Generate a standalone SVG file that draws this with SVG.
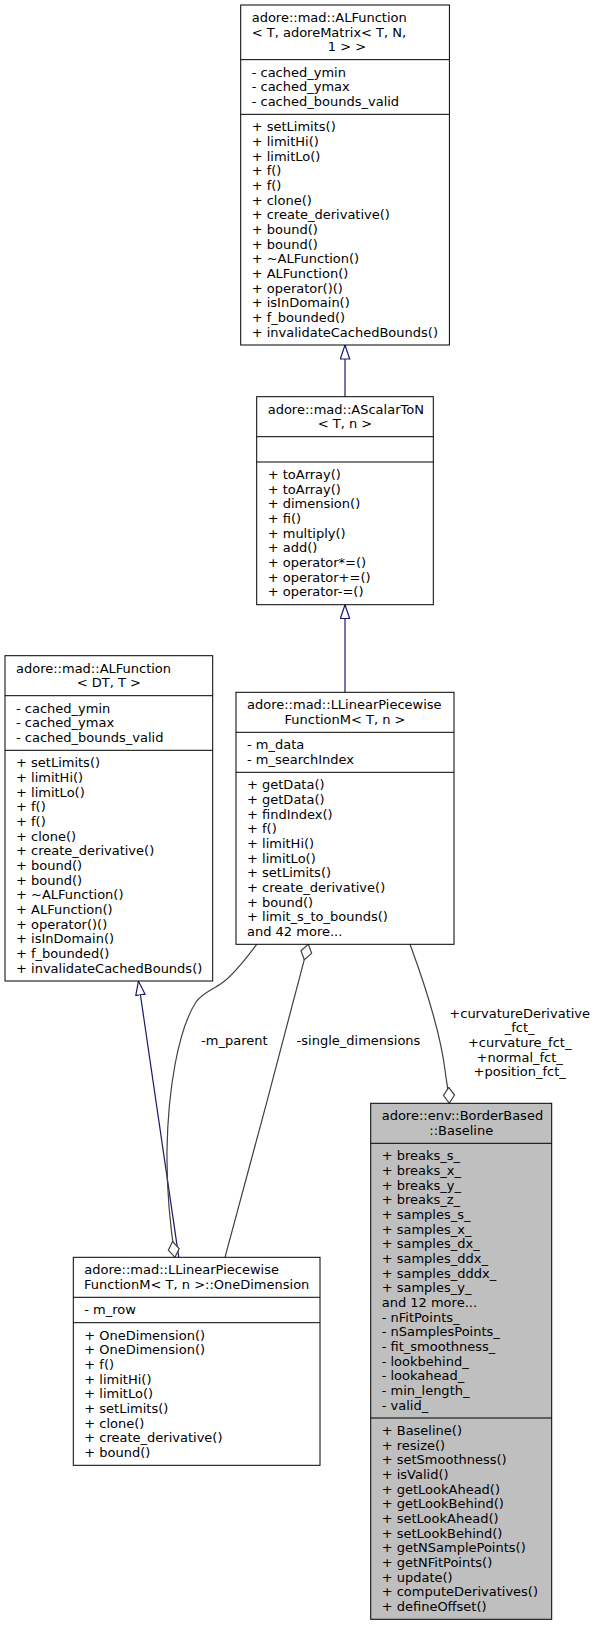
<svg xmlns="http://www.w3.org/2000/svg" width="596" height="1625" viewBox="0 0 596 1625">
<style>
.box{fill:#ffffff;stroke:#000000;stroke-width:1}
.boxh{fill:#bfbfbf;stroke:#000000;stroke-width:1}
.sep{stroke:#000000;stroke-width:1}
text{font-family:"DejaVu Sans","Liberation Sans",sans-serif;font-size:13px;fill:#000000}
.c{text-anchor:middle}
.inh{fill:none;stroke:#191970;stroke-width:1.2}
.agg{fill:none;stroke:#404040;stroke-width:1.2}
</style>
<defs>
<marker id="tri" markerUnits="userSpaceOnUse" markerWidth="16" markerHeight="12" viewBox="0 0 16 12" refX="14.5" refY="5.5" orient="auto">
<path d="M0.5,0.8 L14.5,5.5 L0.5,10.2 z" fill="#ffffff" stroke="#191970" stroke-width="1.2"/>
</marker>
<marker id="dia" markerUnits="userSpaceOnUse" markerWidth="18" markerHeight="14" viewBox="0 0 18 14" refX="16.5" refY="6.5" orient="auto">
<path d="M0.5,6.5 L8.5,1 L16.5,6.5 L8.5,12 z" fill="#ffffff" stroke="#404040" stroke-width="1.2"/>
</marker>
</defs>

<g id="connectors">
<path class="inh" d="M345,396.7 L345,345" marker-end="url(#tri)"/>
<path class="inh" d="M345,692.3 L345,604.7" marker-end="url(#tri)"/>
<path class="inh" d="M178.8,1257.3 L138.4,981" marker-end="url(#tri)"/>
<path class="agg" d="M256.7,944.3 C245,960 232,976 222,983 C212,990 202,993 196,1002 C178,1030 168,1090 167,1150 C166.5,1190 170,1225 175,1257.3" marker-end="url(#dia)"/>
<path class="agg" d="M225,1257.3 C250,1165 285,1035 308.3,944.3" marker-end="url(#dia)"/>
<path class="agg" d="M410,944.3 C425,985 440,1030 445,1070 C447,1085 449,1095 449.3,1103.3" marker-end="url(#dia)"/>
<text class="c" x="234.3" y="1045.4">-m_parent</text>
<text class="c" x="358.5" y="1045.4">-single_dimensions</text>
<text class="c" x="519.7" y="1017.7">+curvatureDerivative<tspan x="519.7" dy="14.67">_fct_</tspan><tspan x="519.7" dy="14.67">+curvature_fct_</tspan><tspan x="519.7" dy="14.67">+normal_fct_</tspan><tspan x="519.7" dy="14.67">+position_fct_</tspan></text>
</g>

<g id="node_ALFunction_adoreMatrix">
<rect class="box" x="240.7" y="5" width="208.7" height="340"/>
<line class="sep" x1="240.7" y1="59.67" x2="449.4" y2="59.67"/>
<line class="sep" x1="240.7" y1="114.33" x2="449.4" y2="114.33"/>
<text x="251.7" y="22">adore::mad::ALFunction<tspan x="251.7" dy="14.67">&lt; T, adoreMatrix&lt; T, N,</tspan></text>
<text class="c" x="347" y="51.33">1 &gt; &gt;</text>
<text x="251.7" y="76.67">- cached_ymin<tspan x="251.7" dy="14.67">- cached_ymax</tspan><tspan x="251.7" dy="14.67">- cached_bounds_valid</tspan></text>
<text x="251.7" y="131.33">+ setLimits()<tspan x="251.7" dy="14.67">+ limitHi()</tspan><tspan x="251.7" dy="14.67">+ limitLo()</tspan><tspan x="251.7" dy="14.67">+ f()</tspan><tspan x="251.7" dy="14.67">+ f()</tspan><tspan x="251.7" dy="14.67">+ clone()</tspan><tspan x="251.7" dy="14.67">+ create_derivative()</tspan><tspan x="251.7" dy="14.67">+ bound()</tspan><tspan x="251.7" dy="14.67">+ bound()</tspan><tspan x="251.7" dy="14.67">+ ~ALFunction()</tspan><tspan x="251.7" dy="14.67">+ ALFunction()</tspan><tspan x="251.7" dy="14.67">+ operator()()</tspan><tspan x="251.7" dy="14.67">+ isInDomain()</tspan><tspan x="251.7" dy="14.67">+ f_bounded()</tspan><tspan x="251.7" dy="14.67">+ invalidateCachedBounds()</tspan></text>
</g>

<g id="node_AScalarToN">
<rect class="box" x="256.7" y="396.7" width="176.6" height="208"/>
<line class="sep" x1="256.7" y1="436.7" x2="433.3" y2="436.7"/>
<line class="sep" x1="256.7" y1="462" x2="433.3" y2="462"/>
<text x="267.7" y="413.7">adore::mad::AScalarToN</text>
<text class="c" x="345" y="428.4">&lt; T, n &gt;</text>
<text x="267.7" y="479">+ toArray()<tspan x="267.7" dy="14.67">+ toArray()</tspan><tspan x="267.7" dy="14.67">+ dimension()</tspan><tspan x="267.7" dy="14.67">+ fi()</tspan><tspan x="267.7" dy="14.67">+ multiply()</tspan><tspan x="267.7" dy="14.67">+ add()</tspan><tspan x="267.7" dy="14.67">+ operator*=()</tspan><tspan x="267.7" dy="14.67">+ operator+=()</tspan><tspan x="267.7" dy="14.67">+ operator-=()</tspan></text>
</g>

<g id="node_ALFunction_DT_T">
<rect class="box" x="5" y="655.7" width="207.7" height="325.3"/>
<line class="sep" x1="5" y1="695.7" x2="212.7" y2="695.7"/>
<line class="sep" x1="5" y1="750.3" x2="212.7" y2="750.3"/>
<text x="16" y="672.7">adore::mad::ALFunction</text>
<text class="c" x="108.9" y="687.4">&lt; DT, T &gt;</text>
<text x="16" y="712.7">- cached_ymin<tspan x="16" dy="14.67">- cached_ymax</tspan><tspan x="16" dy="14.67">- cached_bounds_valid</tspan></text>
<text x="16" y="767.3">+ setLimits()<tspan x="16" dy="14.67">+ limitHi()</tspan><tspan x="16" dy="14.67">+ limitLo()</tspan><tspan x="16" dy="14.67">+ f()</tspan><tspan x="16" dy="14.67">+ f()</tspan><tspan x="16" dy="14.67">+ clone()</tspan><tspan x="16" dy="14.67">+ create_derivative()</tspan><tspan x="16" dy="14.67">+ bound()</tspan><tspan x="16" dy="14.67">+ bound()</tspan><tspan x="16" dy="14.67">+ ~ALFunction()</tspan><tspan x="16" dy="14.67">+ ALFunction()</tspan><tspan x="16" dy="14.67">+ operator()()</tspan><tspan x="16" dy="14.67">+ isInDomain()</tspan><tspan x="16" dy="14.67">+ f_bounded()</tspan><tspan x="16" dy="14.67">+ invalidateCachedBounds()</tspan></text>
</g>

<g id="node_LLinearPiecewiseFunctionM">
<rect class="box" x="236" y="692.3" width="218" height="252"/>
<line class="sep" x1="236" y1="732.3" x2="454" y2="732.3"/>
<line class="sep" x1="236" y1="772.3" x2="454" y2="772.3"/>
<text x="247" y="709.3">adore::mad::LLinearPiecewise</text>
<text class="c" x="345" y="724">FunctionM&lt; T, n &gt;</text>
<text x="247" y="749.3">- m_data<tspan x="247" dy="14.67">- m_searchIndex</tspan></text>
<text x="247" y="789.3">+ getData()<tspan x="247" dy="14.67">+ getData()</tspan><tspan x="247" dy="14.67">+ findIndex()</tspan><tspan x="247" dy="14.67">+ f()</tspan><tspan x="247" dy="14.67">+ limitHi()</tspan><tspan x="247" dy="14.67">+ limitLo()</tspan><tspan x="247" dy="14.67">+ setLimits()</tspan><tspan x="247" dy="14.67">+ create_derivative()</tspan><tspan x="247" dy="14.67">+ bound()</tspan><tspan x="247" dy="14.67">+ limit_s_to_bounds()</tspan><tspan x="247" dy="14.67">and 42 more...</tspan></text>
</g>

<g id="node_Baseline">
<rect class="boxh" x="370.7" y="1103.3" width="181" height="516"/>
<line class="sep" x1="370.7" y1="1143.3" x2="551.7" y2="1143.3"/>
<line class="sep" x1="370.7" y1="1418" x2="551.7" y2="1418"/>
<text x="381.7" y="1120.3">adore::env::BorderBased</text>
<text class="c" x="461.2" y="1135">::Baseline</text>
<text x="381.7" y="1160.3">+ breaks_s_<tspan x="381.7" dy="14.67">+ breaks_x_</tspan><tspan x="381.7" dy="14.67">+ breaks_y_</tspan><tspan x="381.7" dy="14.67">+ breaks_z_</tspan><tspan x="381.7" dy="14.67">+ samples_s_</tspan><tspan x="381.7" dy="14.67">+ samples_x_</tspan><tspan x="381.7" dy="14.67">+ samples_dx_</tspan><tspan x="381.7" dy="14.67">+ samples_ddx_</tspan><tspan x="381.7" dy="14.67">+ samples_dddx_</tspan><tspan x="381.7" dy="14.67">+ samples_y_</tspan><tspan x="381.7" dy="14.67">and 12 more...</tspan><tspan x="381.7" dy="14.67">- nFitPoints_</tspan><tspan x="381.7" dy="14.67">- nSamplesPoints_</tspan><tspan x="381.7" dy="14.67">- fit_smoothness_</tspan><tspan x="381.7" dy="14.67">- lookbehind_</tspan><tspan x="381.7" dy="14.67">- lookahead_</tspan><tspan x="381.7" dy="14.67">- min_length_</tspan><tspan x="381.7" dy="14.67">- valid_</tspan></text>
<text x="381.7" y="1435">+ Baseline()<tspan x="381.7" dy="14.67">+ resize()</tspan><tspan x="381.7" dy="14.67">+ setSmoothness()</tspan><tspan x="381.7" dy="14.67">+ isValid()</tspan><tspan x="381.7" dy="14.67">+ getLookAhead()</tspan><tspan x="381.7" dy="14.67">+ getLookBehind()</tspan><tspan x="381.7" dy="14.67">+ setLookAhead()</tspan><tspan x="381.7" dy="14.67">+ setLookBehind()</tspan><tspan x="381.7" dy="14.67">+ getNSamplePoints()</tspan><tspan x="381.7" dy="14.67">+ getNFitPoints()</tspan><tspan x="381.7" dy="14.67">+ update()</tspan><tspan x="381.7" dy="14.67">+ computeDerivatives()</tspan><tspan x="381.7" dy="14.67">+ defineOffset()</tspan></text>
</g>

<g id="node_OneDimension">
<rect class="box" x="73.3" y="1257.3" width="246.7" height="208"/>
<line class="sep" x1="73.3" y1="1297.3" x2="320" y2="1297.3"/>
<line class="sep" x1="73.3" y1="1322.7" x2="320" y2="1322.7"/>
<text x="84.3" y="1274.3">adore::mad::LLinearPiecewise</text>
<text class="c" x="196.7" y="1289">FunctionM&lt; T, n &gt;::OneDimension</text>
<text x="84.3" y="1314.3">- m_row</text>
<text x="84.3" y="1339.7">+ OneDimension()<tspan x="84.3" dy="14.67">+ OneDimension()</tspan><tspan x="84.3" dy="14.67">+ f()</tspan><tspan x="84.3" dy="14.67">+ limitHi()</tspan><tspan x="84.3" dy="14.67">+ limitLo()</tspan><tspan x="84.3" dy="14.67">+ setLimits()</tspan><tspan x="84.3" dy="14.67">+ clone()</tspan><tspan x="84.3" dy="14.67">+ create_derivative()</tspan><tspan x="84.3" dy="14.67">+ bound()</tspan></text>
</g>
</svg>
